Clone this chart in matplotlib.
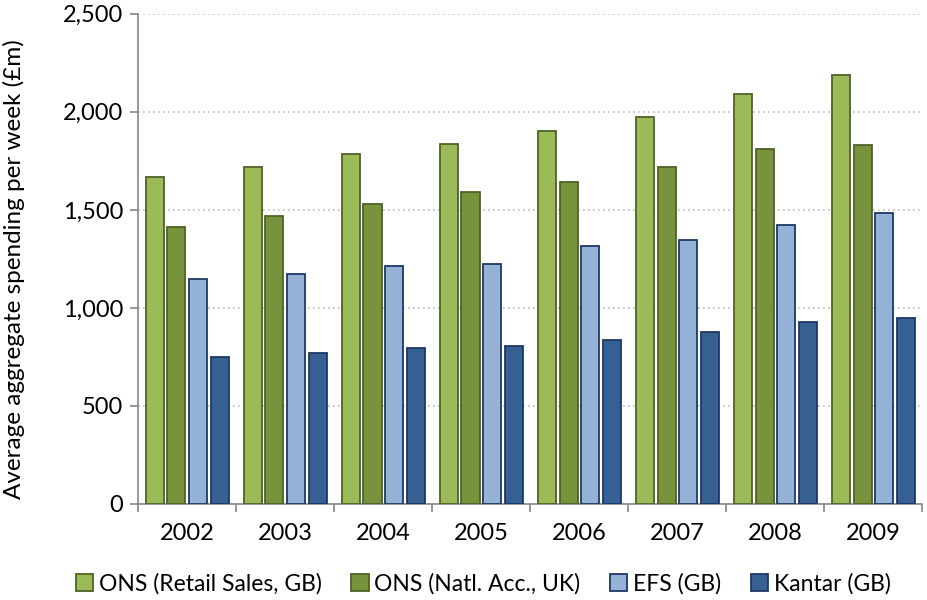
import numpy as np
import matplotlib.pyplot as plt
from matplotlib.ticker import FuncFormatter

years = ['2002', '2003', '2004', '2005', '2006', '2007', '2008', '2009']
ons_retail = [1667, 1720, 1786, 1836, 1900, 1972, 2090, 2186]
ons_natl = [1413, 1470, 1528, 1590, 1640, 1718, 1808, 1833]
efs = [1148, 1173, 1213, 1222, 1318, 1346, 1421, 1484]
kantar = [750, 772, 795, 805, 835, 875, 930, 951]

series = [
  ('ONS (Retail Sales, GB)', ons_retail, '#9BBB59', '#4F6228'),
  ('ONS (Natl. Acc., UK)', ons_natl, '#77933C', '#4F6228'),
  ('EFS (GB)', efs, '#95B3D7', '#1F3864'),
  ('Kantar (GB)', kantar, '#366092', '#1F3864'),
]

plt.rcParams['font.family'] = ['Lato', 'DejaVu Sans']

fig = plt.figure(figsize=(9.28, 6), dpi=100)
ax = fig.add_axes([0.149, 0.16, 0.845, 0.817])

x = np.arange(len(years))
step = 0.221
width = 0.184
for i, (label, vals, fc, ec) in enumerate(series):
  ax.bar(x + (i - 1.5) * step, vals, width, color=fc, edgecolor=ec,
         linewidth=1.3, label=label, zorder=3)

ax.set_xlim(-0.5, len(years) - 0.5)
ax.set_ylim(0, 2500)
ax.set_yticks(np.arange(0, 2501, 500))
ax.yaxis.set_major_formatter(FuncFormatter(lambda v, p: '{:,.0f}'.format(v)))
ax.set_xticks(x)
ax.set_xticklabels(years)
ax.set_xticks(np.arange(-0.5, len(years)), minor=True)
ax.tick_params(axis='x', which='major', length=0, pad=14, labelsize=17)
ax.tick_params(axis='x', which='minor', length=6, color='#868686', width=1.2)
ax.tick_params(axis='y', length=6, color='#868686', width=1.2, labelsize=17, pad=5)

ax.grid(axis='y', linestyle=(0, (1, 2)), color='#BFBFBF', linewidth=1.2, zorder=0)
for s in ['top', 'right']:
  ax.spines[s].set_visible(False)
for s in ['left', 'bottom']:
  ax.spines[s].set_color('#868686')
  ax.spines[s].set_linewidth(1.2)

ax.set_ylabel('Average aggregate spending per week (£m)', fontsize=17.5)
ax.yaxis.set_label_coords(-0.145, 0.48)

ax.legend(loc='center', bbox_to_anchor=(0.44, -0.163), ncol=4, frameon=False,
          fontsize=16.5, handlelength=0.75, handleheight=0.75, handletextpad=0.25,
          columnspacing=1.3)

fig.savefig('out.png', dpi=100)
